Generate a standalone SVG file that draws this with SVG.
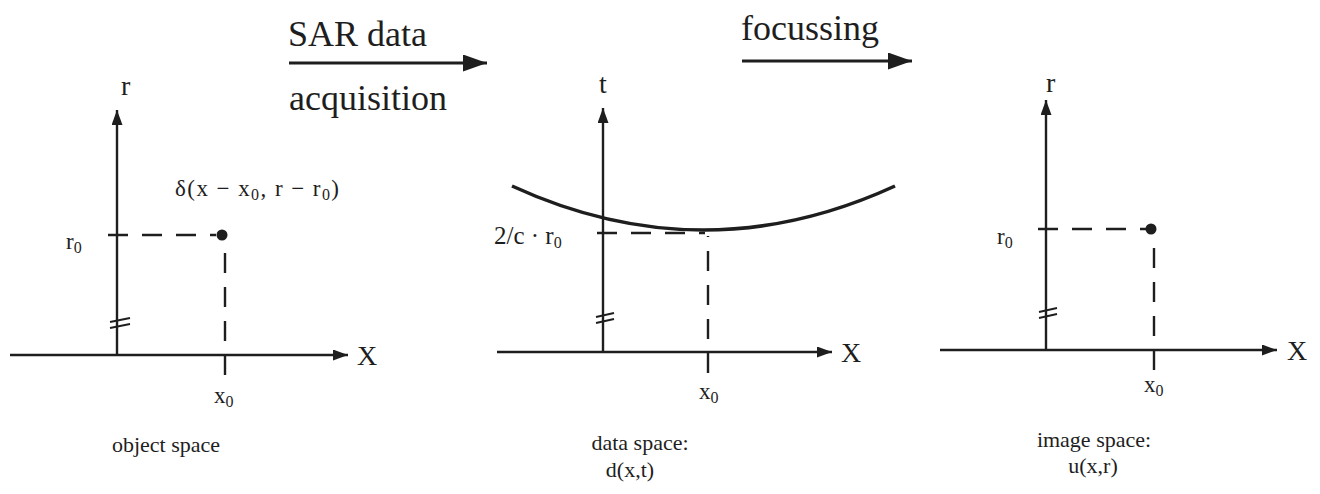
<svg xmlns="http://www.w3.org/2000/svg" width="1320" height="494" viewBox="0 0 1320 494">
<defs>
<marker id="ah" markerUnits="userSpaceOnUse" markerWidth="15" markerHeight="11" refX="15" refY="5.5" orient="auto"><path d="M0,0 L15,5.5 L0,11 z" fill="#1e1e1e"/></marker>
<marker id="ahBig" markerUnits="userSpaceOnUse" markerWidth="24" markerHeight="17" refX="24" refY="8.5" orient="auto"><path d="M0,0 L24,8.5 L0,17 z" fill="#1e1e1e"/></marker>
<style>
.axis{stroke:#1e1e1e;stroke-width:2.4;fill:none;marker-end:url(#ah)}
.dash{stroke:#1e1e1e;stroke-width:2.4;fill:none;stroke-dasharray:20 14}
.brk{stroke:#1e1e1e;stroke-width:2;fill:none}
.flow{stroke:#1e1e1e;stroke-width:3;fill:none;marker-end:url(#ahBig)}
.big{font-family:"Liberation Serif",serif;font-size:36px;fill:#1e1e1e}
.lbl{font-family:"Liberation Serif",serif;font-size:23px;fill:#1e1e1e}
.ax{font-family:"Liberation Serif",serif;font-size:28px;fill:#1e1e1e}
.cap{font-family:"Liberation Serif",serif;font-size:22px;fill:#1e1e1e;text-anchor:middle}
.sub{font-size:16px}
</style>
</defs>
<rect width="1320" height="494" fill="#ffffff"/>
<g id="connectors">
<line class="flow" x1="289" y1="63" x2="487" y2="63"/>
<line class="flow" x1="742" y1="61" x2="912" y2="61"/>
</g>
<g id="label-acquisition">
<text class="big" x="288" y="46">SAR data</text>
<text class="big" x="289" y="110">acquisition</text>
</g>
<g id="label-focussing">
<text class="big" x="741" y="40">focussing</text>
</g>
<g id="object-space">
<line class="axis" x1="117" y1="356" x2="117" y2="110"/>
<line class="axis" x1="10" y1="355" x2="348" y2="355"/>
<line class="brk" x1="110" y1="322" x2="130" y2="318"/>
<line class="brk" x1="110" y1="328" x2="130" y2="324"/>
<line class="dash" x1="108" y1="235" x2="216" y2="235"/>
<line class="dash" x1="225" y1="375" x2="225" y2="243"/>
<circle cx="222" cy="235" r="5.5" fill="#1e1e1e"/>
<text class="ax" x="121" y="95">r</text>
<text class="lbl" x="66" y="249">r<tspan class="sub" dy="4">0</tspan></text>
<text class="lbl" x="175" y="196" textLength="164">δ(x − x<tspan class="sub" dy="4">0</tspan><tspan dy="-4">, r − r</tspan><tspan class="sub" dy="4">0</tspan><tspan dy="-4">)</tspan></text>
<text class="lbl" x="214" y="403">x<tspan class="sub" dy="4">0</tspan></text>
<text class="ax" x="357" y="365">X</text>
<text class="cap" x="166" y="452">object space</text>
</g>
<g id="data-space">
<line class="axis" x1="603" y1="353" x2="603" y2="108"/>
<line class="axis" x1="497" y1="352" x2="832" y2="352"/>
<line class="brk" x1="596" y1="317" x2="614" y2="313"/>
<line class="brk" x1="596" y1="323" x2="614" y2="319"/>
<path d="M512,186 Q703.5,274 895,186" fill="none" stroke="#1e1e1e" stroke-width="3.5"/>
<line class="dash" x1="597" y1="233" x2="705" y2="233"/>
<line class="dash" x1="708" y1="373" x2="708" y2="236"/>
<text class="ax" x="599" y="93">t</text>
<text class="lbl" x="494" y="244" style="font-size:25px">2/c · r<tspan class="sub" dy="4">0</tspan></text>
<text class="lbl" x="699" y="399">x<tspan class="sub" dy="4">0</tspan></text>
<text class="ax" x="841" y="362">X</text>
<text class="cap" x="640" y="450">data space:</text>
<text class="cap" x="630" y="477">d(x,t)</text>
</g>
<g id="image-space">
<line class="axis" x1="1046" y1="351" x2="1046" y2="100"/>
<line class="axis" x1="940" y1="350" x2="1277" y2="350"/>
<line class="brk" x1="1039" y1="312" x2="1057" y2="308"/>
<line class="brk" x1="1039" y1="318" x2="1057" y2="314"/>
<line class="dash" x1="1038" y1="229" x2="1146" y2="229"/>
<line class="dash" x1="1154" y1="370" x2="1154" y2="236"/>
<circle cx="1151" cy="229" r="5.5" fill="#1e1e1e"/>
<text class="ax" x="1046" y="92">r</text>
<text class="lbl" x="997" y="244">r<tspan class="sub" dy="4">0</tspan></text>
<text class="lbl" x="1144" y="392">x<tspan class="sub" dy="4">0</tspan></text>
<text class="ax" x="1287" y="360">X</text>
<text class="cap" x="1094" y="447">image space:</text>
<text class="cap" x="1093" y="473">u(x,r)</text>
</g>
</svg>
